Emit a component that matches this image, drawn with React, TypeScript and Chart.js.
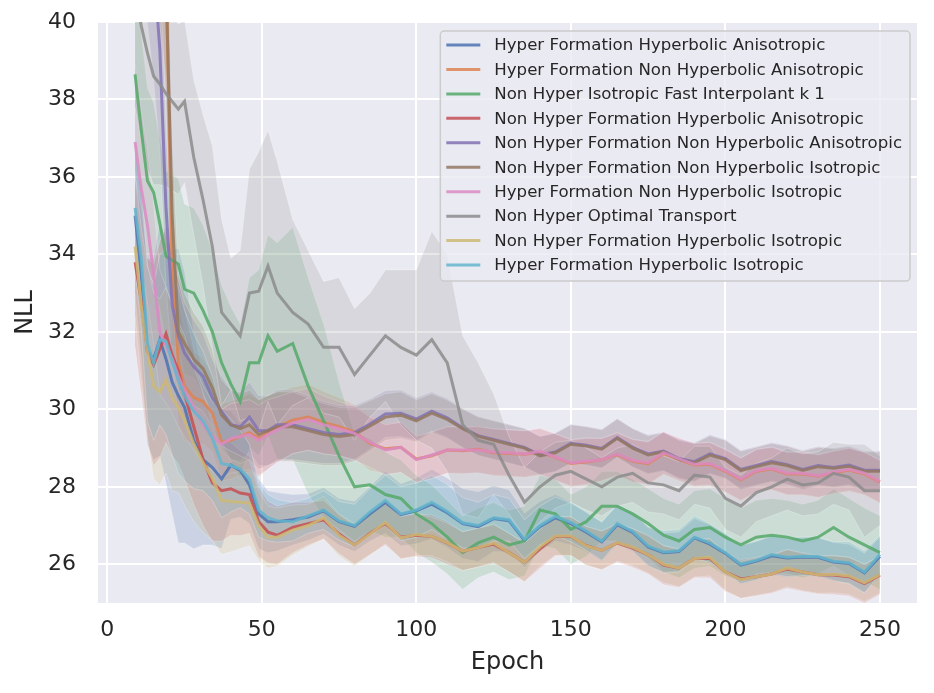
import { useEffect, useRef } from "react";
import { Chart, registerables, type ChartConfiguration, type Plugin } from "chart.js";

Chart.register(...registerables);

const FONT = "'DejaVu Sans', 'Liberation Sans', sans-serif";
const INK = "#262626";

// epochs sampled from the curves (denser at the start where they drop fast)
const EPOCHS = [
  9, 11, 13, 15, 17, 19, 21, 23, 25, 28, 31, 34, 37, 40, 43, 46, 49, 52, 55,
  60, 65, 70, 75, 80, 85, 90, 95, 100, 105, 110, 115, 120, 125, 130, 135, 140,
  145, 150, 155, 160, 165, 170, 175, 180, 185, 190, 195, 200, 205, 210, 215,
  220, 225, 230, 235, 240, 245, 250,
];

const X_TICKS = [0, 50, 100, 150, 200, 250];
const Y_TICKS = [26, 28, 30, 32, 34, 36, 38, 40];

// Hyper Formation Hyperbolic Anisotropic
const HF_HYP_ANISO = [
  35.0, 33.5, 31.5, 31.3, 31.8, 31.3, 30.7, 30.35, 30.05, 29.2, 28.7, 28.5, 28.2, 28.56, 28.42, 28.05, 27.3, 27.1, 27.1,
  27.15, 27.22, 27.38, 27.1, 26.98, 27.3, 27.6, 27.28, 27.38, 27.55, 27.33, 27.05, 26.97, 27.18, 27.12, 26.62, 26.97,
  27.2, 27.05, 26.83, 26.58, 27.02, 26.82, 26.45, 26.3, 26.33, 26.68, 26.52, 26.28, 25.98, 26.08, 26.22, 26.16, 26.19,
  26.18, 26.06, 26.02, 25.78, 26.2,
];
const HF_HYP_ANISO_SD = [
  2.0, 2.2, 2.4, 2.6, 3.0, 3.2, 3.4, 3.8, 3.5, 2.8, 2.2, 2.0, 1.8, 1.4, 1.2, 1.0, 0.9, 0.8, 0.75,
  0.65, 0.6, 0.6, 0.6, 0.65, 0.7, 0.8, 0.8, 0.85, 0.9, 0.9, 0.9, 0.9, 0.85, 0.8, 0.7, 0.65,
  0.6, 0.55, 0.5, 0.5, 0.5, 0.5, 0.5, 0.5, 0.5, 0.5, 0.5, 0.5, 0.5, 0.5, 0.5, 0.5, 0.5,
  0.5, 0.5, 0.5, 0.5, 0.5,
];

// Hyper Formation Non Hyperbolic Anisotropic
const HF_NONHYP_ANISO = [
  45.5, 45.0, 44.5, 44.0, 43.0, 41.5, 33.5, 31.2, 30.6, 30.3, 30.2, 29.9, 29.15, 29.2, 29.3, 29.4, 29.25, 29.4, 29.55,
  29.72, 29.8, 29.66, 29.55, 29.42, 29.12, 28.98, 29.02, 28.72, 28.8, 28.95, 28.93, 28.97, 28.88, 28.86, 28.84, 28.9,
  28.76, 28.6, 28.64, 28.7, 28.83, 28.66, 28.6, 28.86, 28.7, 28.56, 28.58, 28.4, 28.18, 28.4, 28.46, 28.33, 28.33,
  28.27, 28.36, 28.43, 28.33, 28.12,
];
const HF_NONHYP_ANISO_SD = [
  3.0, 3.0, 3.0, 3.0, 3.0, 3.0, 2.0, 1.6, 1.4, 1.2, 1.1, 1.0, 1.0, 1.0, 1.0, 1.0, 1.0, 0.95, 0.9,
  0.85, 0.85, 0.8, 0.75, 0.7, 0.7, 0.65, 0.65, 0.6, 0.6, 0.6, 0.6, 0.6, 0.6, 0.6, 0.6, 0.6,
  0.6, 0.6, 0.6, 0.55, 0.55, 0.55, 0.55, 0.55, 0.55, 0.55, 0.55, 0.55, 0.55, 0.55, 0.55, 0.55, 0.55,
  0.55, 0.55, 0.55, 0.55, 0.55,
];

// Non Hyper Isotropic Fast Interpolant k 1
const NH_FAST_INTERP = [
  38.65, 37.2, 35.9, 35.6, 34.8, 33.95, 33.85, 33.75, 33.1, 33.0, 32.55, 32.0, 31.2, 30.65, 30.2, 31.2, 31.2, 31.9, 31.5,
  31.7, 30.6, 29.7, 28.8, 28.0, 28.05, 27.8, 27.7, 27.3, 27.05, 26.7, 26.3, 26.55, 26.7, 26.5, 26.6, 27.4,
  27.3, 26.9, 27.1, 27.5, 27.5, 27.3, 27.05, 26.75, 26.6, 26.9, 26.95, 26.7, 26.5, 26.7, 26.75, 26.7, 26.6,
  26.7, 26.95, 26.7, 26.5, 26.3,
];
const NH_FAST_INTERP_SD = [
  2.5, 2.5, 2.4, 2.3, 2.2, 2.2, 2.2, 2.2, 2.2, 2.2, 2.2, 2.1, 2.0, 2.0, 2.0, 2.2, 2.4, 2.6, 2.8,
  3.0, 2.8, 2.5, 1.9, 1.4, 1.2, 1.1, 1.0, 1.0, 1.0, 0.95, 0.95, 0.9, 0.9, 0.9, 0.9, 0.9,
  0.9, 0.9, 0.9, 0.9, 0.9, 0.9, 0.9, 0.95, 0.95, 1.0, 1.0, 1.0, 0.95, 0.95, 0.95, 0.95, 0.95,
  0.95, 1.0, 1.0, 0.95, 0.95,
];

// Non Hyper Formation Hyperbolic Anisotropic
const NHF_HYP_ANISO = [
  33.8, 32.8, 31.5, 31.15, 31.55, 31.95, 31.4, 31.0, 30.4, 29.55, 28.7, 28.1, 27.9, 27.95, 27.84, 27.8, 27.1, 26.83, 26.75,
  26.95, 27.05, 27.15, 26.78, 26.5, 26.8, 27.05, 26.7, 26.75, 26.72, 26.55, 26.34, 26.43, 26.52, 26.3, 26.05, 26.4,
  26.72, 26.72, 26.48, 26.36, 26.55, 26.42, 26.25, 25.98, 25.9, 26.15, 26.15, 25.8, 25.62, 25.68, 25.75, 25.88, 25.8,
  25.73, 25.72, 25.68, 25.5, 25.72,
];
const NHF_HYP_ANISO_SD = [
  2.2, 2.4, 2.4, 2.6, 2.8, 2.8, 2.6, 2.4, 2.2, 2.0, 1.7, 1.5, 1.3, 1.2, 1.1, 1.0, 0.9, 0.8, 0.75,
  0.65, 0.55, 0.5, 0.5, 0.5, 0.55, 0.55, 0.55, 0.55, 0.55, 0.55, 0.5, 0.5, 0.5, 0.5, 0.5, 0.5,
  0.5, 0.5, 0.5, 0.5, 0.5, 0.5, 0.5, 0.5, 0.5, 0.5, 0.5, 0.5, 0.5, 0.5, 0.5, 0.5, 0.5,
  0.5, 0.5, 0.5, 0.5, 0.5,
];

// Non Hyper Formation Non Hyperbolic Anisotropic
const NHF_NONHYP_ANISO = [
  44.0, 43.5, 43.0, 41.5, 39.3, 35.2, 32.7, 31.9, 31.45, 31.1, 30.85, 30.3, 29.95, 29.6, 29.55, 29.8, 29.45, 29.45, 29.6,
  29.6, 29.5, 29.4, 29.35, 29.4, 29.62, 29.88, 29.9, 29.75, 29.95, 29.78, 29.52, 29.32, 29.22, 29.12, 29.02, 28.82,
  28.9, 29.12, 29.07, 28.99, 29.27, 29.02, 28.85, 28.92, 28.73, 28.65, 28.85, 28.73, 28.45, 28.55, 28.65, 28.57, 28.45,
  28.55, 28.5, 28.56, 28.43, 28.43,
];
const NHF_NONHYP_ANISO_SD = [
  3.0, 3.0, 3.0, 3.0, 2.6, 2.0, 1.6, 1.4, 1.3, 1.2, 1.1, 1.0, 0.9, 0.9, 0.9, 0.9, 0.9, 0.9, 0.9,
  0.9, 0.85, 0.8, 0.75, 0.7, 0.65, 0.6, 0.6, 0.55, 0.5, 0.5, 0.5, 0.5, 0.5, 0.5, 0.5, 0.5,
  0.5, 0.5, 0.5, 0.5, 0.5, 0.5, 0.5, 0.5, 0.5, 0.5, 0.5, 0.5, 0.5, 0.5, 0.5, 0.5, 0.5,
  0.5, 0.5, 0.5, 0.5, 0.5,
];

// Non Hyper Formation Non Hyperbolic Isotropic
const NHF_NONHYP_ISO = [
  46.5, 46.0, 45.5, 45.0, 44.0, 41.0, 35.0, 32.0, 31.7, 31.3, 31.05, 30.55, 29.85, 29.6, 29.5, 29.6, 29.35, 29.45, 29.55,
  29.55, 29.45, 29.35, 29.3, 29.35, 29.57, 29.8, 29.85, 29.7, 29.9, 29.74, 29.5, 29.3, 29.2, 29.1, 29.0, 28.8,
  28.88, 29.1, 29.05, 28.97, 29.25, 29.0, 28.82, 28.9, 28.7, 28.62, 28.82, 28.7, 28.42, 28.52, 28.62, 28.55, 28.42,
  28.52, 28.48, 28.53, 28.4, 28.4,
];
const NHF_NONHYP_ISO_SD = [
  3.0, 3.0, 3.0, 3.0, 3.0, 3.0, 2.0, 1.5, 1.3, 1.2, 1.1, 1.0, 0.9, 0.9, 0.9, 0.9, 0.9, 0.9, 0.9,
  0.9, 0.85, 0.8, 0.75, 0.7, 0.65, 0.6, 0.6, 0.55, 0.5, 0.5, 0.5, 0.5, 0.5, 0.5, 0.5, 0.5,
  0.5, 0.5, 0.5, 0.5, 0.5, 0.5, 0.5, 0.5, 0.5, 0.5, 0.5, 0.5, 0.5, 0.5, 0.5, 0.5, 0.5,
  0.5, 0.5, 0.5, 0.5, 0.5,
];

// Hyper Formation Non Hyperbolic Isotropic
const HF_NONHYP_ISO = [
  36.9, 35.7, 34.75, 33.5, 32.0, 31.65, 31.3, 30.85, 30.5, 30.05, 29.6, 29.3, 29.1, 29.25, 29.3, 29.35, 29.2, 29.35, 29.47,
  29.65, 29.74, 29.6, 29.5, 29.38, 29.15, 28.95, 29.02, 28.7, 28.82, 28.95, 28.95, 28.95, 28.9, 28.88, 28.85, 28.92,
  28.77, 28.62, 28.66, 28.7, 28.85, 28.68, 28.62, 28.88, 28.72, 28.58, 28.6, 28.42, 28.2, 28.42, 28.48, 28.35, 28.35,
  28.28, 28.38, 28.45, 28.35, 28.14,
];
const HF_NONHYP_ISO_SD = [
  2.0, 2.0, 2.0, 1.8, 1.6, 1.5, 1.4, 1.3, 1.2, 1.1, 1.0, 0.9, 0.9, 0.9, 0.9, 0.9, 0.9, 0.9, 0.85,
  0.8, 0.8, 0.75, 0.7, 0.7, 0.65, 0.65, 0.65, 0.6, 0.6, 0.6, 0.6, 0.6, 0.6, 0.6, 0.6, 0.6,
  0.6, 0.6, 0.6, 0.55, 0.55, 0.55, 0.55, 0.55, 0.55, 0.55, 0.55, 0.55, 0.55, 0.55, 0.55, 0.55, 0.55,
  0.55, 0.55, 0.55, 0.55, 0.55,
];

// Non Hyper Optimal Transport
const NH_OPT_TRANSPORT = [
  40.8, 39.9, 39.2, 38.6, 38.4, 38.15, 37.95, 37.75, 37.95, 36.5, 35.4, 34.2, 32.5, 32.2, 31.9, 33.0, 33.05, 33.7, 33.0,
  32.5, 32.2, 31.6, 31.6, 30.9, 31.4, 31.9, 31.6, 31.4, 31.8, 31.2, 29.6, 29.2, 29.1, 28.3, 27.6, 28.0,
  28.3, 28.4, 28.2, 28.0, 28.25, 28.35, 28.1, 28.05, 27.9, 28.3, 28.25, 27.7, 27.5, 27.85, 28.0, 28.2, 28.05,
  28.1, 28.35, 28.25, 27.9, 27.9,
];
const NH_OPT_TRANSPORT_SD = [
  3.0, 3.0, 3.0, 2.8, 2.6, 2.4, 2.3, 2.2, 2.1, 2.0, 2.2, 2.6, 2.4, 1.7, 2.2, 3.2, 3.6, 3.5, 3.4,
  2.4, 1.9, 1.7, 1.8, 1.7, 1.6, 1.7, 2.0, 2.2, 2.8, 2.8, 2.3, 2.0, 1.3, 1.0, 0.9, 0.9,
  0.85, 0.8, 0.8, 0.75, 0.75, 0.75, 0.75, 0.75, 0.75, 0.75, 0.8, 0.8, 0.8, 0.75, 0.75, 0.8, 0.8,
  0.8, 0.8, 0.85, 1.2, 0.9,
];

// Non Hyper Formation Hyperbolic Isotropic
const NHF_HYP_ISO = [
  34.2, 32.7, 31.5, 30.6, 30.45, 30.75, 30.3, 30.05, 29.72, 29.1, 28.62, 28.22, 27.65, 27.62, 27.6, 27.58, 27.0, 26.7, 26.7,
  26.88, 27.0, 27.2, 26.75, 26.5, 26.78, 27.08, 26.68, 26.77, 26.72, 26.56, 26.34, 26.43, 26.55, 26.3, 26.05, 26.45,
  26.73, 26.73, 26.47, 26.36, 26.56, 26.44, 26.25, 26.0, 25.9, 26.15, 26.18, 25.8, 25.6, 25.68, 25.75, 25.9, 25.8,
  25.73, 25.74, 25.7, 25.52, 25.73,
];
const NHF_HYP_ISO_SD = [
  1.8, 2.0, 2.2, 2.4, 2.4, 2.4, 2.4, 2.2, 2.2, 2.0, 1.8, 1.6, 1.4, 1.3, 1.2, 1.1, 0.9, 0.8, 0.75,
  0.65, 0.55, 0.55, 0.55, 0.55, 0.55, 0.55, 0.55, 0.55, 0.5, 0.5, 0.5, 0.5, 0.5, 0.5, 0.5, 0.5,
  0.5, 0.5, 0.5, 0.5, 0.48, 0.48, 0.48, 0.48, 0.48, 0.48, 0.48, 0.48, 0.48, 0.48, 0.48, 0.48, 0.48,
  0.48, 0.48, 0.48, 0.48, 0.48,
];

// Hyper Formation Hyperbolic Isotropic
const HF_HYP_ISO = [
  35.2, 33.9, 31.7, 31.2, 31.8, 31.75, 31.23, 30.75, 30.35, 29.95, 29.7, 29.25, 28.6, 28.55, 28.46, 28.2, 27.4, 27.2, 27.12,
  27.1, 27.25, 27.4, 27.12, 27.0, 27.35, 27.65, 27.3, 27.4, 27.6, 27.36, 27.07, 27.0, 27.2, 27.15, 26.65, 27.0,
  27.24, 27.08, 26.86, 26.6, 27.05, 26.85, 26.47, 26.32, 26.35, 26.7, 26.55, 26.3, 26.0, 26.1, 26.25, 26.18, 26.21,
  26.2, 26.08, 26.04, 25.8, 26.25,
];
const HF_HYP_ISO_SD = [
  1.6, 1.8, 2.0, 2.0, 2.2, 2.4, 2.4, 2.4, 2.2, 2.0, 1.8, 1.6, 1.4, 1.2, 1.0, 0.9, 0.7, 0.6, 0.55,
  0.5, 0.45, 0.5, 0.5, 0.55, 0.6, 0.65, 0.7, 0.7, 0.7, 0.7, 0.65, 0.6, 0.6, 0.55, 0.5, 0.5,
  0.5, 0.5, 0.5, 0.5, 0.5, 0.5, 0.5, 0.55, 0.55, 0.55, 0.5, 0.5, 0.5, 0.5, 0.5, 0.5, 0.5,
  0.5, 0.5, 0.55, 0.55, 0.5,
];

const LABELS = [
  "Hyper Formation Hyperbolic Anisotropic",
  "Hyper Formation Non Hyperbolic Anisotropic",
  "Non Hyper Isotropic Fast Interpolant k 1",
  "Non Hyper Formation Hyperbolic Anisotropic",
  "Non Hyper Formation Non Hyperbolic Anisotropic",
  "Non Hyper Formation Non Hyperbolic Isotropic",
  "Hyper Formation Non Hyperbolic Isotropic",
  "Non Hyper Optimal Transport",
  "Non Hyper Formation Hyperbolic Isotropic",
  "Hyper Formation Hyperbolic Isotropic",
];

// seaborn "deep"
const COLORS = [
  "#4C72B0", "#DD8452", "#55A868", "#C44E52", "#8172B3",
  "#937860", "#DA8BC3", "#8C8C8C", "#CCB974", "#64B5CD",
];

const MEANS = [
  HF_HYP_ANISO, HF_NONHYP_ANISO, NH_FAST_INTERP, NHF_HYP_ANISO, NHF_NONHYP_ANISO,
  NHF_NONHYP_ISO, HF_NONHYP_ISO, NH_OPT_TRANSPORT, NHF_HYP_ISO, HF_HYP_ISO,
];
const SDS = [
  HF_HYP_ANISO_SD, HF_NONHYP_ANISO_SD, NH_FAST_INTERP_SD, NHF_HYP_ANISO_SD, NHF_NONHYP_ANISO_SD,
  NHF_NONHYP_ISO_SD, HF_NONHYP_ISO_SD, NH_OPT_TRANSPORT_SD, NHF_HYP_ISO_SD, HF_HYP_ISO_SD,
];

function rgba(hex: string, a: number) {
  const n = parseInt(hex.slice(1), 16);
  return `rgba(${(n >> 16) & 255}, ${(n >> 8) & 255}, ${n & 255}, ${a})`;
}

const points = (ys: number[]) => EPOCHS.map((x, i) => ({ x, y: ys[i] }));

function buildDatasets() {
  const sets: any[] = [];
  MEANS.forEach((mean, i) => {
    const sd = SDS[i];
    // matplotlib puts every fill_between under every line
    sets.push({
      label: `_hi${i}`,
      data: points(mean.map((m, j) => m + sd[j])),
      borderColor: "rgba(255,255,255,0.25)",
      borderWidth: 1,
      pointRadius: 0,
      fill: false,
      order: 200 - i,
    });
    sets.push({
      label: `_lo${i}`,
      data: points(mean.map((m, j) => m - sd[j])),
      borderColor: "rgba(255,255,255,0.25)",
      borderWidth: 1,
      pointRadius: 0,
      backgroundColor: rgba(COLORS[i], 0.2),
      fill: "-1",
      order: 200 - i,
    });
  });
  MEANS.forEach((mean, i) => {
    sets.push({
      label: LABELS[i],
      data: points(mean),
      borderColor: rgba(COLORS[i], 0.85),
      borderWidth: 3,
      pointRadius: 0,
      fill: false,
      order: 100 - i,
    });
  });
  return sets;
}

const plotBackground: Plugin = {
  id: "plotBackground",
  beforeDraw(chart) {
    const { ctx, chartArea: a, width, height } = chart;
    ctx.save();
    ctx.fillStyle = "#ffffff";
    ctx.fillRect(0, 0, width, height);
    ctx.fillStyle = "#EAEAF2";
    ctx.fillRect(a.left, a.top, a.right - a.left, a.bottom - a.top);
    ctx.restore();
  },
};

const insetLegend: Plugin = {
  id: "insetLegend",
  afterDraw(chart) {
    const { ctx, chartArea: a } = chart;
    ctx.save();
    ctx.font = `16.6px ${FONT}`;
    const textW = Math.max(...LABELS.map((l) => ctx.measureText(l).width));
    const rowH = 24.45;
    const boxW = 54 + textW + 8;
    const boxH = 14 + rowH * (LABELS.length - 1) + 16;
    const right = a.right - 7;
    const left = right - boxW;
    const top = a.top + 9;
    ctx.beginPath();
    ctx.roundRect(left, top, boxW, boxH, 4);
    ctx.fillStyle = "rgba(234,234,242,0.8)";
    ctx.fill();
    ctx.strokeStyle = "#cccccc";
    ctx.lineWidth = 1.5;
    ctx.stroke();
    ctx.textBaseline = "middle";
    ctx.textAlign = "left";
    LABELS.forEach((label, i) => {
      const y = top + 14 + i * rowH;
      ctx.strokeStyle = rgba(COLORS[i], 0.85);
      ctx.lineWidth = 3;
      ctx.beginPath();
      ctx.moveTo(left + 6, y);
      ctx.lineTo(left + 40, y);
      ctx.stroke();
      ctx.fillStyle = INK;
      ctx.fillText(label, left + 54, y + 1);
    });
    ctx.restore();
  },
};

export default function App() {
  const canvasRef = useRef<HTMLCanvasElement>(null);

  useEffect(() => {
    document.body.style.margin = "0";
    if (!canvasRef.current) return;

    const config: ChartConfiguration<"line"> = {
      type: "line",
      data: { datasets: buildDatasets() },
      options: {
        animation: false,
        responsive: true,
        maintainAspectRatio: false,
        events: [],
        layout: { padding: { top: 22, right: 17, left: 0, bottom: 0 } },
        plugins: {
          legend: { display: false },
          tooltip: { enabled: false },
        },
        scales: {
          x: {
            type: "linear",
            min: -3,
            max: 262,
            afterFit: (s) => {
              s.height = 90;
            },
            afterBuildTicks: (s) => {
              s.ticks = X_TICKS.map((value) => ({ value }));
            },
            ticks: {
              includeBounds: false,
              padding: 14,
              color: INK,
              font: { family: FONT, size: 22 },
            },
            grid: { color: "#ffffff", lineWidth: 2, drawTicks: false },
            border: { display: false },
            title: {
              display: true,
              text: "Epoch",
              color: INK,
              font: { family: FONT, size: 24 },
              padding: { top: 0, bottom: 16 },
            },
          },
          y: {
            type: "linear",
            min: 25,
            max: 40,
            afterFit: (s) => {
              s.width = 98;
              // tick padding would otherwise push the plot top down
              s.paddingTop = 0;
              s.paddingBottom = 0;
            },
            afterBuildTicks: (s) => {
              s.ticks = Y_TICKS.map((value) => ({ value }));
            },
            ticks: {
              includeBounds: false,
              padding: 22,
              color: INK,
              font: { family: FONT, size: 22 },
            },
            grid: { color: "#ffffff", lineWidth: 2, drawTicks: false },
            border: { display: false },
            title: {
              display: true,
              text: "NLL",
              color: INK,
              font: { family: FONT, size: 24 },
              padding: { top: 11, bottom: 0 },
            },
          },
        },
      },
      plugins: [plotBackground, insetLegend],
    };

    const chart = new Chart(canvasRef.current, config);
    return () => {
      chart.destroy();
    };
  }, []);

  return (
    <div style={{ position: "relative", width: 934, height: 693 }}>
      <canvas ref={canvasRef} />
    </div>
  );
}
